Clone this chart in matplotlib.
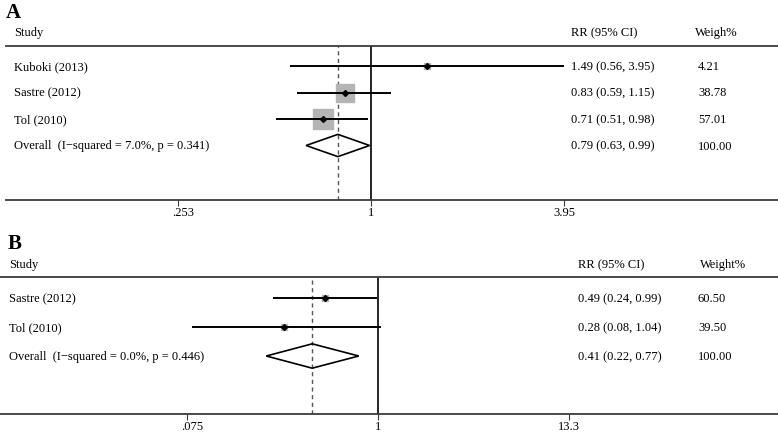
import matplotlib
matplotlib.use('Agg')
import matplotlib.pyplot as plt
import matplotlib.transforms as mtransforms
from matplotlib.patches import Polygon
import numpy as np

plt.rcParams['font.family'] = ['Liberation Serif', 'DejaVu Serif']

# Panel A data
studies_a = ['Kuboki (2013)', 'Sastre (2012)', 'Tol (2010)']
rr_a = [1.49, 0.83, 0.71]
lo_a = [0.56, 0.59, 0.51]
hi_a = [3.95, 1.15, 0.98]
weight_a = [4.21, 38.78, 57.01]
overall_a = [0.79, 0.63, 0.99]
overall_label_a = 'Overall  (I\u2212squared = 7.0%, p = 0.341)'
ticks_a = [0.253, 1, 3.95]
ticklabels_a = ['.253', '1', '3.95']

# Panel B data
studies_b = ['Sastre (2012)', 'Tol (2010)']
rr_b = [0.49, 0.28]
lo_b = [0.24, 0.08]
hi_b = [0.99, 1.04]
weight_b = [60.50, 39.50]
overall_b = [0.41, 0.22, 0.77]
overall_label_b = 'Overall  (I\u2212squared = 0.0%, p = 0.446)'
ticks_b = [0.075, 1, 13.3]
ticklabels_b = ['.075', '1', '13.3']

W, H = 778, 435
fig = plt.figure(figsize=(W / 100, H / 100), dpi=100)
FS = 9


def px(x, y):
    return x / W, 1 - y / H


def panel(letter, rect, xlim, ylim, studies, rr, lo, hi, wt, overall, olabel,
          ticks, ticklabels, box_scale, study_x, rr_x, w_x, wval_x, wlabel,
          study_y, letter_x, letter_y):
    ax = fig.add_axes(rect)
    ax.set_xscale('log')
    ax.set_xlim(*xlim)
    ax.set_ylim(*ylim)
    for s in ['left', 'right']:
        ax.spines[s].set_visible(False)
    for s in ['top', 'bottom']:
        ax.spines[s].set_color('#3a3a3a')
        ax.spines[s].set_linewidth(1.3)
    ax.set_yticks([])
    ax.minorticks_off()
    ax.set_xticks(ticks)
    ax.set_xticklabels([])
    ax.tick_params(axis='x', direction='out', length=4, width=0.8, color='#3a3a3a')

    rows = np.arange(len(studies))
    orow = len(studies)

    ax.axvline(1, color='black', lw=1.2)
    ax.axvline(overall[0], color='#555555', lw=1.0, ls=(0, (3, 2.5)))

    ax.hlines(rows, lo, hi, color='black', lw=1.4, zorder=3)
    for r, est, w in zip(rows, rr, wt):
        ax.plot(est, r, marker='s', ms=box_scale * np.sqrt(w), color='#b4b4b4',
                mec='#b4b4b4', zorder=2)
        ax.plot(est, r, marker='D', ms=3, color='black', zorder=4)

    est, olo, ohi = overall
    dh = 0.42
    diamond = Polygon([(olo, orow), (est, orow - dh), (ohi, orow), (est, orow + dh)],
                      closed=True, fill=False, ec='black', lw=1.2, zorder=5)
    ax.add_patch(diamond)

    tr = mtransforms.blended_transform_factory(fig.transFigure, ax.transData)
    labels = studies + [olabel]
    rr_txt = [f'{a:.2f} ({b:.2f}, {c:.2f})' for a, b, c in zip(rr + [est], lo + [olo], hi + [ohi])]
    w_txt = [f'{w:.2f}' for w in wt + [100.0]]
    for r, (lab, rt, wt_) in enumerate(zip(labels, rr_txt, w_txt)):
        ax.text(study_x / W, r, lab, transform=tr, fontsize=FS, va='center', ha='left')
        ax.text(rr_x / W, r, rt, transform=tr, fontsize=FS, va='center', ha='left')
        ax.text(wval_x / W, r, wt_, transform=tr, fontsize=FS, va='center', ha='left')

    fig.text(*px(study_x, study_y), 'Study', fontsize=FS, va='center', ha='left')
    fig.text(*px(rr_x, study_y), 'RR (95% CI)', fontsize=FS, va='center', ha='left')
    fig.text(*px(w_x, study_y), wlabel, fontsize=FS, va='center', ha='left')
    fig.text(*px(letter_x, letter_y), letter, fontsize=15, fontweight='bold',
             va='center', ha='left')

    ttr = mtransforms.blended_transform_factory(ax.transData, ax.transAxes)
    for t, lab in zip(ticks, ticklabels):
        if lab.startswith('.'):
            off = mtransforms.ScaledTranslation(-6 / 100, -6 / 100, fig.dpi_scale_trans)
            ax.text(t, 0, lab, transform=ttr + off, fontsize=FS, va='top', ha='left')
        else:
            off = mtransforms.ScaledTranslation(0, -6 / 100, fig.dpi_scale_trans)
            ax.text(t, 0, lab, transform=ttr + off, fontsize=FS, va='top', ha='center')
    return ax


# Panel A: header line y=47, bottom y=201, rows start at 67, spacing ~26.5
x0a = 6
rect_a = [x0a / W, 1 - 201 / H, (W - x0a) / W, (201 - 47) / H]
ka = 140.5
xlim_a = (np.exp((x0a - 371) / ka), np.exp((W - 371) / ka))
ylim_a = ((201 - 67) / 26.5, -(67 - 47) / 26.5)
panel('A', rect_a, xlim_a, ylim_a, studies_a, rr_a, lo_a, hi_a, weight_a, overall_a,
      overall_label_a, ticks_a, ticklabels_a, 1.97, 14, 571, 695, 698, 'Weigh%',
      33, 6, 13)

# Panel B: header line y=278, bottom y=415, rows start at 299, spacing ~29
rect_b = [0, 1 - 415 / H, 1, (415 - 278) / H]
kb = 73.8
xlim_b = (np.exp((0 - 378) / kb), np.exp((W - 378) / kb))
ylim_b = ((415 - 299) / 29, -(299 - 278) / 29)
panel('B', rect_b, xlim_b, ylim_b, studies_b, rr_b, lo_b, hi_b, weight_b, overall_b,
      overall_label_b, ticks_b, ticklabels_b, 0.6, 9, 578, 700, 698, 'Weight%',
      265, 8, 244)

fig.savefig('out.png', dpi=100)
